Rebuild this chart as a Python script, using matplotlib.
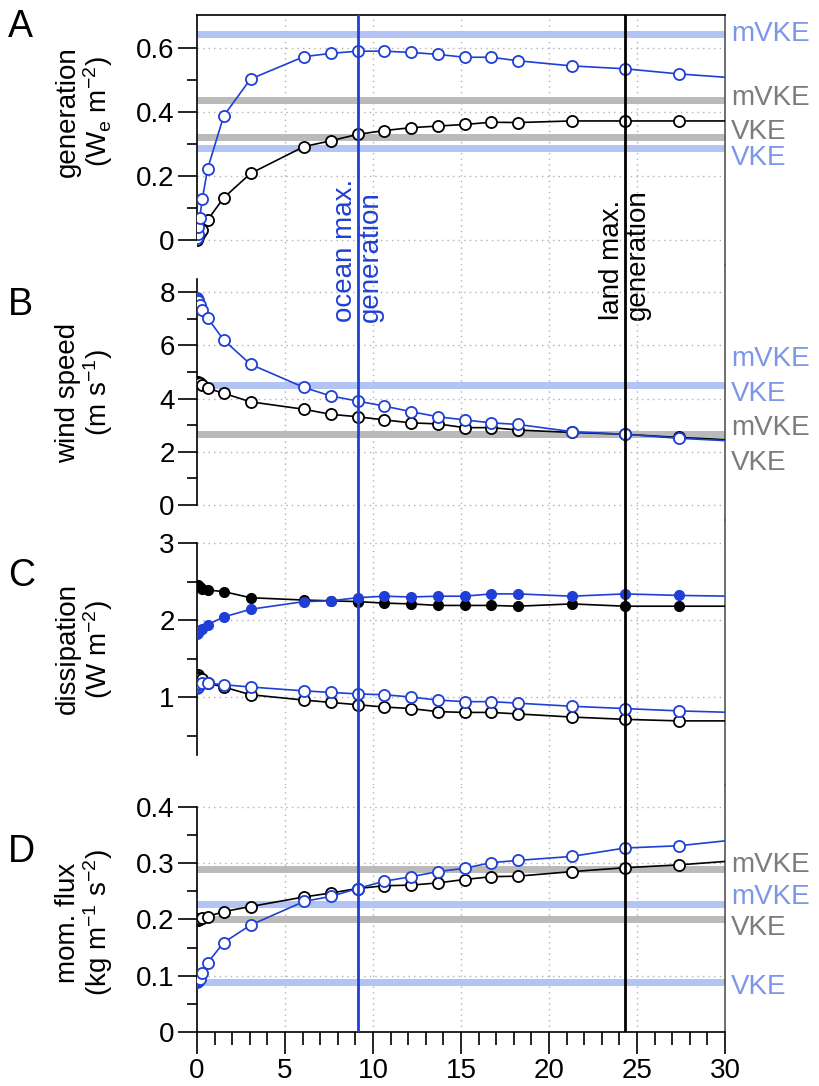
import matplotlib
matplotlib.use("Agg")
import matplotlib.pyplot as plt

plt.rcParams['font.family'] = ['Liberation Sans', 'DejaVu Sans']
plt.rcParams['mathtext.fontset'] = 'custom'
plt.rcParams['mathtext.rm'] = 'Liberation Sans'
plt.rcParams['mathtext.it'] = 'Liberation Sans:italic'

# ---- data ----
x = [0, 0.04, 0.08, 0.15, 0.3, 0.6, 1.52, 3.04, 6.08, 7.6, 9.12, 10.64,
     12.16, 13.68, 15.2, 16.72, 18.24, 21.28, 24.32, 27.36, 30.4]

gen_ocean = [0.005, 0.02, 0.04, 0.068, 0.127, 0.222, 0.388, 0.503, 0.573, 0.583, 0.590,
             0.590, 0.586, 0.580, 0.571, 0.571, 0.560, 0.544, 0.535, 0.519, 0.507]
gen_land = [0.0, 0.008, 0.015, 0.022, 0.031, 0.0625, 0.132, 0.208, 0.292, 0.310, 0.330,
            0.342, 0.351, 0.356, 0.361, 0.368, 0.367, 0.372, 0.372, 0.372, 0.372]

wind_ocean = [7.78, 7.72, 7.65, 7.5, 7.33, 7.03, 6.2, 5.29, 4.42, 4.10, 3.91,
              3.72, 3.51, 3.32, 3.20, 3.09, 3.03, 2.76, 2.66, 2.51, 2.41]
wind_land = [4.62, 4.61, 4.6, 4.58, 4.52, 4.39, 4.2, 3.88, 3.6, 3.41, 3.32,
             3.2, 3.09, 3.05, 2.91, 2.91, 2.82, 2.73, 2.66, 2.54, 2.45]

diss_land_full = [2.46, 2.45, 2.44, 2.43, 2.41, 2.39, 2.37, 2.29, 2.26, 2.25, 2.24,
                  2.22, 2.21, 2.19, 2.19, 2.19, 2.18, 2.21, 2.18, 2.18, 2.18]
diss_ocean_full = [1.82, 1.83, 1.85, 1.87, 1.89, 1.94, 2.04, 2.14, 2.24, 2.25, 2.29,
                   2.31, 2.30, 2.31, 2.31, 2.34, 2.34, 2.31, 2.34, 2.32, 2.31]
diss_land_open = [1.29, 1.28, 1.26, 1.25, 1.23, 1.18, 1.13, 1.03, 0.96, 0.93, 0.90,
                  0.87, 0.85, 0.81, 0.80, 0.80, 0.78, 0.74, 0.71, 0.69, 0.69]
diss_ocean_open = [1.12, 1.13, 1.15, 1.17, 1.18, 1.18, 1.16, 1.13, 1.08, 1.06, 1.04,
                   1.03, 1.00, 0.96, 0.94, 0.94, 0.92, 0.88, 0.85, 0.82, 0.80]

mom_land = [0.199, 0.199, 0.200, 0.200, 0.202, 0.205, 0.214, 0.223, 0.240, 0.247, 0.255,
            0.260, 0.261, 0.265, 0.271, 0.276, 0.277, 0.285, 0.292, 0.297, 0.304]
mom_ocean = [0.089, 0.091, 0.093, 0.095, 0.104, 0.123, 0.159, 0.190, 0.232, 0.241, 0.255,
             0.268, 0.276, 0.285, 0.291, 0.301, 0.305, 0.312, 0.327, 0.331, 0.341]

ocean_max = 9.12
land_max = 24.32

# reference levels (ocean = blue, land = gray): (label, value)
ref_gen_ocean = [('mVKE', 0.645), ('VKE', 0.2875)]
ref_gen_land = [('mVKE', 0.437), ('VKE', 0.321)]
ref_wind_ocean = [('mVKE', 4.5), ('VKE', 4.5)]
ref_wind_land = [('mVKE', 2.67), ('VKE', 2.67)]
ref_mom_land = [('mVKE', 0.29), ('VKE', 0.20)]
ref_mom_ocean = [('mVKE', 0.228), ('VKE', 0.089)]

# ---- styles ----
BLUE = '#1f3fd6'
LBLUE = '#b3c3f3'
LBLUE_TXT = '#7d97e8'
GRAY = '#bababa'
GRAY_TXT = '#7c7c7c'
GRID = '#b0b0b0'
FS = 20

W, H = 820, 1086
fig = plt.figure(figsize=(W / 100, H / 100), dpi=100)

x0, x1 = 197, 725
# (top px, bottom px, ylim)
panels = [(15, 265, (-0.078, 0.703)),
          (265, 520, (-0.56, 9.02)),
          (520, 785, (-0.143, 3.30)),
          (785, 1032, (0.0, 0.439))]
axes = []
for top, bot, yl in panels:
    ax = fig.add_axes([x0 / W, 1 - bot / H, (x1 - x0) / W, (bot - top) / H])
    ax.set_xlim(0, 30)
    ax.set_ylim(*yl)
    ax.patch.set_visible(False)
    for s in ['top', 'bottom']:
        ax.spines[s].set_visible(False)
    ax.spines['left'].set_linewidth(1.2)
    ax.spines['right'].set_linewidth(1.2)
    ax.spines['right'].set_color('#555555')
    ax.tick_params(axis='x', which='both', bottom=False, labelbottom=False)
    ax.tick_params(axis='y', which='major', length=14, width=1.2, labelsize=FS, pad=2)
    ax.tick_params(axis='y', which='minor', length=7, width=1.2)
    for gx in [5, 10, 15, 20, 25]:
        ax.axvline(gx, color=GRID, ls=(0, (1, 3)), lw=1, zorder=0)
    ax.axvline(ocean_max, color=BLUE, lw=2, zorder=5)
    ax.axvline(land_max, color='black', lw=2, zorder=5)
    axes.append(ax)
axA, axB, axC, axD = axes
axA.spines['top'].set_visible(True)
axA.spines['top'].set_linewidth(1.2)
axD.spines['bottom'].set_visible(True)
axD.spines['bottom'].set_linewidth(1.2)


def yticks(ax, major, labels, minor, bounds):
    ax.set_yticks(major)
    ax.set_yticklabels(labels)
    ax.set_yticks(minor, minor=True)
    for gy in major:
        ax.axhline(gy, color=GRID, ls=(0, (1, 3)), lw=1, zorder=0)
    ax.spines['left'].set_bounds(*bounds)


yticks(axA, [0, 0.2, 0.4, 0.6], ['0', '0.2', '0.4', '0.6'], [0.1, 0.3, 0.5], (0, 0.703))
yticks(axB, [0, 2, 4, 6, 8], ['0', '2', '4', '6', '8'], [1, 3, 5, 7], (0, 8.5))
yticks(axC, [1, 2, 3], ['1', '2', '3'], [0.5, 1.5, 2.5], (0.25, 3))
yticks(axD, [0, 0.1, 0.2, 0.3, 0.4], ['0', '0.1', '0.2', '0.3', '0.4'],
       [0.05, 0.15, 0.25, 0.35], (0, 0.4))

axD.set_xticks([0, 5, 10, 15, 20, 25, 30])
axD.set_xticks(range(0, 31), minor=True)
axD.tick_params(axis='x', which='major', bottom=True, labelbottom=True,
                length=16, width=1.2, labelsize=FS, pad=3)
axD.tick_params(axis='x', which='minor', bottom=True, length=9, width=1.2)


def bands(ax, refs, color, txtcolor, offsets):
    for (lab, val), off in zip(refs, offsets):
        ax.axhline(val, color=color, lw=5, zorder=1, solid_capstyle='butt')
        ax.annotate(lab, xy=(1, val), xycoords=('axes fraction', 'data'),
                    xytext=(6, off), textcoords='offset pixels', va='center', ha='left',
                    color=txtcolor, fontsize=FS, annotation_clip=False)


bands(axA, ref_gen_ocean, LBLUE, LBLUE_TXT, [0, -10])
bands(axA, ref_gen_land, GRAY, GRAY_TXT, [2, 5])
bands(axB, ref_wind_ocean, LBLUE, LBLUE_TXT, [26, -9])
bands(axB, ref_wind_land, GRAY, GRAY_TXT, [6, -29])
bands(axD, ref_mom_land, GRAY, GRAY_TXT, [4, -9])
bands(axD, ref_mom_ocean, LBLUE, LBLUE_TXT, [7, -5])

open_kw = dict(marker='o', ms=8, mfc='white', mew=1.3, lw=1.2, zorder=3)
fill_kw = dict(marker='o', ms=7, lw=1.2, zorder=3)

axA.plot(x, gen_land, color='black', mec='black', **open_kw)
axA.plot(x, gen_ocean, color=BLUE, mec=BLUE, **open_kw)
axB.plot(x, wind_land, color='black', mec='black', **open_kw)
axB.plot(x, wind_ocean, color=BLUE, mec=BLUE, **open_kw)
axC.plot(x, diss_land_full, color='black', **fill_kw)
axC.plot(x, diss_ocean_full, color=BLUE, **fill_kw)
axC.plot(x, diss_land_open, color='black', mec='black', **open_kw)
axC.plot(x, diss_ocean_open, color=BLUE, mec=BLUE, **open_kw)
axD.plot(x, mom_land, color='black', mec='black', **open_kw)
axD.plot(x, mom_ocean, color=BLUE, mec=BLUE, **open_kw)

# labels of the max generation lines, across the A/B boundary
axA.text(ocean_max, -0.256, 'ocean max.\ngeneration', rotation=90, ha='center', va='bottom',
         multialignment='left', color=BLUE, fontsize=20, linespacing=1.0, clip_on=False)
axA.text(land_max, -0.25, 'land max.\ngeneration', rotation=90, ha='center', va='bottom',
         multialignment='left', color='black', fontsize=20, linespacing=1.0, clip_on=False)

ylabels = [('generation\n(W$_\\mathrm{e}$ m$^{-2}$)', 112),
           ('wind speed\n(m s$^{-1}$)', 393),
           ('dissipation\n(W m$^{-2}$)', 649),
           ('mom. flux\n(kg m$^{-1}$ s$^{-2}$)', 923)]
for txt, yc in ylabels:
    fig.text(85 / W, 1 - yc / H, txt, rotation=90, ha='center', va='center',
             multialignment='center', fontsize=FS, linespacing=1.0)

for letter, yc in zip('ABCD', [27, 305, 576, 852]):
    fig.text(8 / W, 1 - yc / H, letter, ha='left', va='center', fontsize=27)

fig.savefig('out.png', dpi=100)
